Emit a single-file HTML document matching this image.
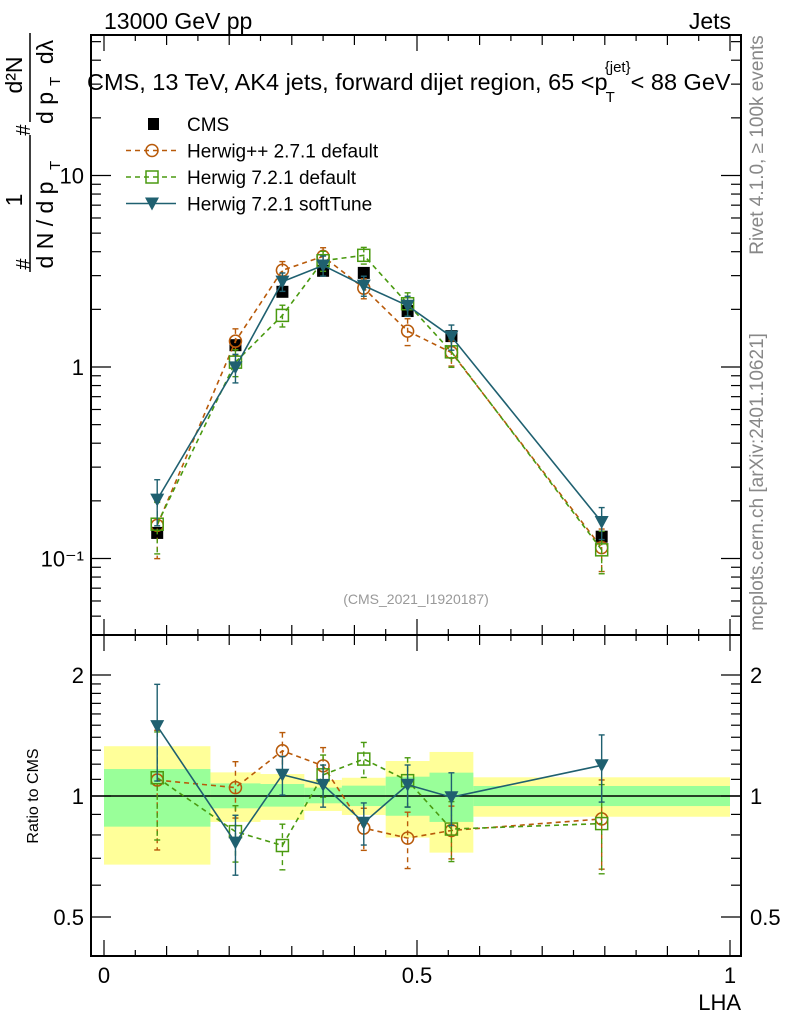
<!DOCTYPE html>
<html><head><meta charset="utf-8"><style>
html,body{margin:0;padding:0;background:#fff}
svg{display:block;font-family:"Liberation Sans",sans-serif}
</style></head><body>
<svg id="chart" width="786" height="1024" viewBox="0 0 786 1024" xmlns="http://www.w3.org/2000/svg"></svg>
<script>
const binEdges=[0,0.17,0.25,0.32,0.38,0.45,0.52,0.59,1.0];
const cmsValues=[0.136,1.30,2.47,3.18,3.10,1.96,1.45,0.13];
const bandTotalUp=[1.33,1.145,1.134,1.096,1.11,1.222,1.287,1.113];
const bandTotalDn=[0.675,0.862,0.872,0.918,0.897,0.788,0.723,0.888];
const bandStatUp=[1.167,1.075,1.071,1.049,1.061,1.117,1.143,1.059];
const bandStatDn=[0.839,0.932,0.941,0.959,0.944,0.893,0.862,0.944];
const herwigPPValues=[0.149,1.364,3.20,3.78,2.58,1.54,1.19,0.114];
const herwigPPErr=[0.33,0.16,0.11,0.11,0.12,0.16,0.15,0.25];
const herwig7Values=[0.151,1.06,1.86,3.59,3.83,2.14,1.20,0.111];
const herwig7Err=[0.30,0.16,0.13,0.12,0.10,0.14,0.17,0.25];
const softTuneValues=[0.203,0.995,2.79,3.39,2.66,2.09,1.44,0.155];
const softTuneErr=[0.27,0.17,0.11,0.12,0.12,0.12,0.15,0.19];
const xTickLabels=["0","0.5","1"];
const mainTickLabels=["10\u207B\u00B9","1","10"];
const ratioTickLabels=["0.5","1","2"];

const NS="http://www.w3.org/2000/svg";
const svg=document.getElementById('chart');
const L=91,R=741,T=35,MB=635,B=956;
const xS=v=>104+626*v;
const yM=v=>367-191.5*Math.log10(v);
const yR=r=>796-402*Math.log10(r);
function mk(tag,at,parent){const e=document.createElementNS(NS,tag);for(const k in at)e.setAttribute(k,at[k]);(parent||svg).appendChild(e);return e;}
function txt(s,at,parent){const e=mk('text',at,parent);e.textContent=s;return e;}
const centers=binEdges.slice(0,-1).map((e,i)=>(e+binEdges[i+1])/2);

const bands=mk('g',{});


for(let i=0;i<cmsValues.length;i++){
  const x0=xS(binEdges[i]),x1=xS(binEdges[i+1]);
  const y=mk('rect',{x:x0,y:yR(bandTotalUp[i]),width:x1-x0,height:yR(bandTotalDn[i])-yR(bandTotalUp[i]),fill:'#ffff99'},bands);
  
  
}
for(let i=0;i<cmsValues.length;i++){
  const x0=xS(binEdges[i]),x1=xS(binEdges[i+1]);
  const g=mk('rect',{x:x0,y:yR(bandStatUp[i]),width:x1-x0,height:yR(bandStatDn[i])-yR(bandStatUp[i]),fill:'#99ff99'},bands);
  
  
}
mk('line',{x1:L,x2:R,y1:yR(1),y2:yR(1),stroke:'#000','stroke-width':1.5});

const f1=mk('rect',{x:L,y:T,width:R-L,height:MB-T,fill:'none',stroke:'#000','stroke-width':2});


const f2=mk('rect',{x:L,y:MB,width:R-L,height:B-MB,fill:'none',stroke:'#000','stroke-width':2});



for(let k=0;k<=20;k++){
  const v=k*0.05,x=xS(v),len=(k%10==0)?16:(k%2==0?10:6);
  for(const [yb,dir] of [[T,1],[MB,-1],[MB,1],[B,-1]]) mk('line',{x1:x,x2:x,y1:yb,y2:yb+dir*len,stroke:'#000','stroke-width':1.2});
}
xTickLabels.forEach((s,i)=>{const t=txt(s,{x:xS(i*0.5),y:983,'font-size':22,'text-anchor':'middle'});

});
const xt=txt('LHA',{x:741,y:1010,'font-size':22,'text-anchor':'end'});



for(let d=-2;d<=1;d++){for(let m=1;m<=9;m++){const v=m*Math.pow(10,d),y=yM(v);if(y<T||y>MB)continue;
  const len=m==1?20:10;
  mk('line',{x1:L,x2:L+len,y1:y,y2:y,stroke:'#000','stroke-width':1.2});
  mk('line',{x1:R,x2:R-len,y1:y,y2:y,stroke:'#000','stroke-width':1.2});}}
[0.1,1,10].forEach((v,i)=>{const t=txt(mainTickLabels[i],{x:84,y:yM(v)+8,'font-size':22,'text-anchor':'end'});

});

[0.4,0.5,0.6,0.7,0.8,0.9,1,1.1,1.2,1.3,1.4,1.5,1.6,1.7,1.8,1.9,2].forEach(r=>{const y=yR(r);const len=(r==0.5||r==1||r==2)?20:10;
  mk('line',{x1:L,x2:L+len,y1:y,y2:y,stroke:'#000','stroke-width':1.2});
  mk('line',{x1:R,x2:R-len,y1:y,y2:y,stroke:'#000','stroke-width':1.2});});
[0.5,1,2].forEach((r,i)=>{
  const t=txt(ratioTickLabels[i],{x:84,y:yR(r)+8,'font-size':22,'text-anchor':'end'});
  
  
  const t2=txt(ratioTickLabels[i],{x:750,y:yR(r)+8,'font-size':22});
  
  });
const rt=txt('Ratio to CMS',{x:0,y:0,'font-size':16,'text-anchor':'middle',transform:'translate(38,796) rotate(-90)'});



const series=[
 {name:'herwigpp',vals:herwigPPValues,err:herwigPPErr,color:'#b85a0a',dash:'5,4',marker:'circle'},
 {name:'herwig7',vals:herwig7Values,err:herwig7Err,color:'#4a9a10',dash:'5,4',marker:'square'},
 {name:'softtune',vals:softTuneValues,err:softTuneErr,color:'#1f6070',dash:'',marker:'tri'}];
function marker(type,x,y,color,g){
  if(type=='circle') mk('circle',{cx:x,cy:y,r:6,fill:'none',stroke:color,'stroke-width':1.5},g);
  else if(type=='square') mk('rect',{x:x-6,y:y-6,width:12,height:12,fill:'none',stroke:color,'stroke-width':1.5},g);
  else if(type=='tri') mk('path',{d:`M${x-7},${y-6}L${x+7},${y-6}L${x},${y+7}Z`,fill:color},g);
  else mk('rect',{x:x-6,y:y-6,width:12,height:12,fill:'#000'},g);
}
function drawSeries(s,ratio){
  const g=mk('g',{});
  
  
  const ys=s.vals.map((v,i)=>ratio?yR(v/cmsValues[i]):yM(v));
  const pts=centers.map((c,i)=>xS(c)+','+ys[i]).join(' ');
  mk('polyline',{points:pts,fill:'none',stroke:s.color,'stroke-width':1.6,'stroke-dasharray':s.dash},g);
  s.vals.forEach((v,i)=>{
    const base=ratio?v/cmsValues[i]:v, f=ratio?yR:yM;
    const hi=f(base*(1+s.err[i])),lo=f(base*(1-s.err[i])),x=xS(centers[i]);
    mk('line',{x1:x,x2:x,y1:hi,y2:lo,stroke:s.color,'stroke-width':1.4,'stroke-dasharray':s.dash},g);
    mk('line',{x1:x-3,x2:x+3,y1:hi,y2:hi,stroke:s.color,'stroke-width':1.4},g);
    mk('line',{x1:x-3,x2:x+3,y1:lo,y2:lo,stroke:s.color,'stroke-width':1.4},g);
    marker(s.marker,x,ys[i],s.color,g);
  });
}
const cg=mk('g',{});


cmsValues.forEach((v,i)=>marker('cms',xS(centers[i]),yM(v),'#000',cg));
series.forEach(s=>{drawSeries(s,false);drawSeries(s,true);});

const leg=mk('g',{});


const legItems=[['CMS','cms','#000',''],['Herwig++ 2.7.1 default','circle','#b85a0a','5,4'],['Herwig 7.2.1 default','square','#4a9a10','5,4'],['Herwig 7.2.1 softTune','tri','#1f6070','']];
legItems.forEach((it,i)=>{const y=124+26.5*i;
  const e=mk('g',{},leg);
  
  
  if(i>0) mk('line',{x1:126,x2:176,y1:y,y2:y,stroke:it[2],'stroke-width':1.5,'stroke-dasharray':it[3]},e);
  if(it[1]=='cms') mk('rect',{x:148,y:y-6,width:11,height:12,fill:'#000'},e); else marker(it[1],152,y,it[2],e);
  txt(it[0],{x:187,y:y+7,'font-size':19},e);});

const t1=txt('13000 GeV pp',{x:104,y:29,'font-size':23});


const t2=txt('Jets',{x:731,y:29,'font-size':23,'text-anchor':'end'});


const t3=mk('text',{x:87,y:90,'font-size':23.5});


t3.innerHTML='CMS, 13 TeV, AK4 jets, forward dijet region, 65 &lt;p<tspan font-size="15" dx="-2" dy="12">T</tspan><tspan font-size="15" dx="-10" dy="-30">{jet}</tspan><tspan dy="18">&lt; 88 GeV</tspan>';
const wm=txt('(CMS_2021_I1920187)',{x:416,y:604,'font-size':14,fill:'#999','text-anchor':'middle'});


const r1=txt('Rivet 4.1.0, \u2265 100k events',{x:0,y:0,'font-size':19,fill:'#888','text-anchor':'middle',transform:'translate(763,145) rotate(-90)'});


const r2=txt('mcplots.cern.ch [arXiv:2401.10621]',{x:0,y:0,'font-size':19,fill:'#888','text-anchor':'middle',transform:'translate(763,482) rotate(-90)'});



const yt=mk('g',{});


txt('1',{x:0,y:0,'font-size':23,'text-anchor':'middle',transform:'translate(22,200) rotate(-90)'},yt);
mk('line',{x1:30,x2:30,y1:135,y2:272,stroke:'#000','stroke-width':1.5},yt);
txt('d N / d p',{x:0,y:0,'font-size':23,'text-anchor':'middle',transform:'translate(53,225) rotate(-90)'},yt);
txt('T',{x:0,y:0,'font-size':15,transform:'translate(60,170) rotate(-90)'},yt);
txt('#',{x:0,y:0,'font-size':20,'text-anchor':'middle',transform:'translate(30,130) rotate(-90)'},yt);
txt('#',{x:0,y:0,'font-size':20,'text-anchor':'middle',transform:'translate(30,264) rotate(-90)'},yt);
txt('d\u00B2N',{x:0,y:0,'font-size':23,'text-anchor':'middle',transform:'translate(22,75) rotate(-90)'},yt);
mk('line',{x1:30,x2:30,y1:33,y2:122,stroke:'#000','stroke-width':1.5},yt);
txt('d p',{x:0,y:0,'font-size':23,'text-anchor':'middle',transform:'translate(53,108) rotate(-90)'},yt);
txt('T',{x:0,y:0,'font-size':15,transform:'translate(60,86) rotate(-90)'},yt);
txt('d\u03BB',{x:0,y:0,'font-size':23,'text-anchor':'middle',transform:'translate(53,52) rotate(-90)'},yt);
</script>
</body></html>
